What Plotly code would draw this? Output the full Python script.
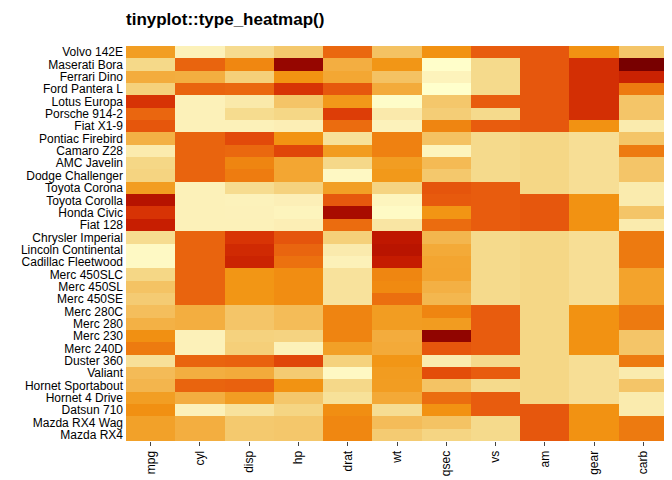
import plotly.graph_objects as go
import numpy as np

cars = ["Mazda RX4","Mazda RX4 Wag","Datsun 710","Hornet 4 Drive","Hornet Sportabout","Valiant","Duster 360","Merc 240D","Merc 230","Merc 280","Merc 280C","Merc 450SE","Merc 450SL","Merc 450SLC","Cadillac Fleetwood","Lincoln Continental","Chrysler Imperial","Fiat 128","Honda Civic","Toyota Corolla","Toyota Corona","Dodge Challenger","AMC Javelin","Camaro Z28","Pontiac Firebird","Fiat X1-9","Porsche 914-2","Lotus Europa","Ford Pantera L","Ferrari Dino","Maserati Bora","Volvo 142E"]
variables = ["mpg","cyl","disp","hp","drat","wt","qsec","vs","am","gear","carb"]
mpg = [21,21,22.8,21.4,18.7,18.1,14.3,24.4,22.8,19.2,17.8,16.4,17.3,15.2,10.4,10.4,14.7,32.4,30.4,33.9,21.5,15.5,15.2,13.3,19.2,27.3,26,30.4,15.8,19.7,15,21.4]
cyl = [6,6,4,6,8,6,8,4,4,6,6,8,8,8,8,8,8,4,4,4,4,8,8,8,8,4,4,4,8,6,8,4]
disp = [160,160,108,258,360,225,360,146.7,140.8,167.6,167.6,275.8,275.8,275.8,472,460,440,78.7,75.7,71.1,120.1,318,304,350,400,79,120.3,95.1,351,145,301,121]
hp = [110,110,93,110,175,105,245,62,95,123,123,180,180,180,205,215,230,66,52,65,97,150,150,245,175,66,91,113,264,175,335,109]
drat = [3.9,3.9,3.85,3.08,3.15,2.76,3.21,3.69,3.92,3.92,3.92,3.07,3.07,3.07,2.93,3,3.23,4.08,4.93,4.22,3.7,2.76,3.15,3.73,3.08,4.08,4.43,3.77,4.22,3.62,3.54,4.11]
wt = [2.62,2.875,2.32,3.215,3.44,3.46,3.57,3.19,3.15,3.44,3.44,4.07,3.73,3.78,5.25,5.424,5.345,2.2,1.615,1.835,2.465,3.52,3.435,3.84,3.845,1.935,2.14,1.513,3.17,2.77,3.57,2.78]
qsec = [16.46,17.02,18.61,19.44,17.02,20.22,15.84,20,22.9,18.3,18.9,17.4,17.6,18,17.98,17.82,17.42,19.47,18.52,19.9,20.01,16.87,17.3,15.41,17.05,18.9,16.7,16.9,14.5,15.5,14.6,18.6]
vs = [0,0,1,1,0,1,0,1,1,1,1,0,0,0,0,0,0,1,1,1,1,0,0,0,0,1,0,1,0,0,0,1]
am = [1,1,1,0,0,0,0,0,0,0,0,0,0,0,0,0,0,1,1,1,0,0,0,0,0,1,1,1,1,1,1,1]
gear = [4,4,4,3,3,3,3,4,4,4,4,3,3,3,3,3,3,4,4,4,3,3,3,3,3,4,5,5,5,5,5,4]
carb = [4,4,1,1,2,1,4,2,2,4,4,3,3,3,4,4,4,1,2,1,1,2,2,4,2,1,2,2,4,6,8,2]

cols = [mpg,cyl,disp,hp,drat,wt,qsec,vs,am,gear,carb]
z = []
for c in cols:
    a = np.array(c, float)
    z.append((a - a.mean()) / a.std(ddof=1))
z = np.array(z).T

zmin, zmax = z.min(), z.max()
def p(v): return (v - zmin) / (zmax - zmin)
stops = [(-1.9,"#FFFFCC"),(-1.2,"#FCF0B8"),(-0.85,"#F5D98A"),(-0.1,"#F3AE40"),(0.4,"#F29412"),(1.1,"#E85D0E"),(1.6,"#DC3A06"),(2.1,"#C41A00"),(2.6,"#A00800"),(3.25,"#780000")]
cs = [[min(max(p(v),0),1), c] for v, c in stops]
cs[0][0] = 0; cs[-1][0] = 1

fig = go.Figure(go.Heatmap(z=z, x=variables, y=cars, colorscale=cs, zmin=zmin, zmax=zmax, showscale=False))
fig.update_layout(
    width=672, height=480, paper_bgcolor="white", plot_bgcolor="white",
    margin=dict(l=118, r=12, t=38, b=42),
    font=dict(family="Liberation Sans, Arial", size=12, color="black"),
    title=dict(text="<b>tinyplot::type_heatmap()</b>", x=118/672, xanchor="left", y=0.99, yanchor="top", font=dict(size=17)),
)
fig.update_xaxes(tickangle=-90, ticks="outside", ticklen=4, showgrid=False, zeroline=False)
fig.update_yaxes(ticks="", showgrid=False, zeroline=False, ticklabelstandoff=2, dtick=1, tickfont=dict(size=12))
fig.write_html("out.html")
